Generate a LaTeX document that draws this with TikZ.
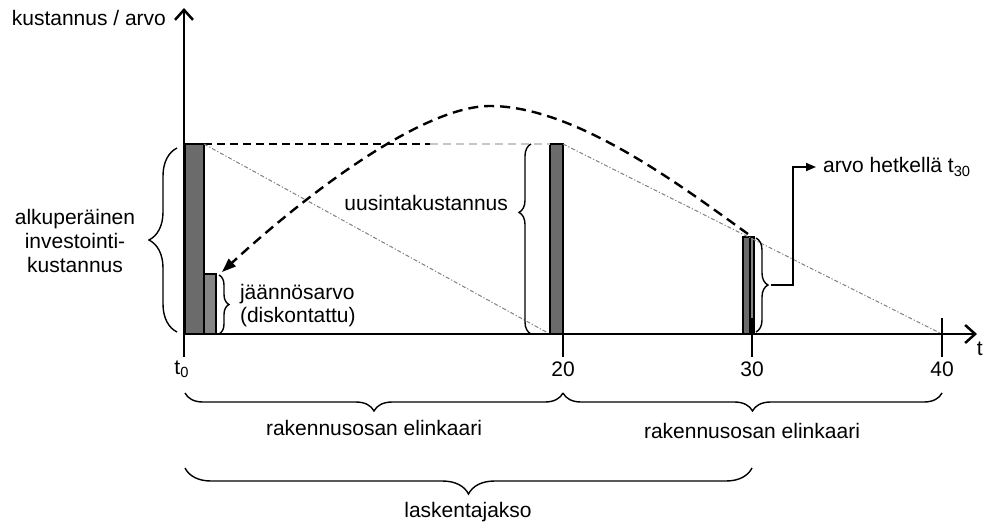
\documentclass[tikz,border=0pt]{standalone}
\usepackage{fontspec}
\setmainfont{Liberation Sans}
\usetikzlibrary{calc,arrows.meta,decorations.pathreplacing}
\definecolor{barfill}{gray}{0.42}
\definecolor{barlight}{gray}{0.52}

\begin{document}
\begin{tikzpicture}[x=0.5pt, y=-0.5pt, font=\fontsize{10.5}{12}\selectfont,
  axisline/.style={line width=1.25pt},
  barbox/.style={draw=black, line width=0.7pt, fill=barfill},
  brc/.style={decorate, line width=0.7pt, decoration={brace}},
  dashcurve/.style={line width=1.2pt, dash pattern=on 5pt off 3pt},
  hline/.style={line width=0.8pt, dash pattern=on 4pt off 2.5pt},
  deprline/.style={line width=0.5pt, gray, dash pattern=on 2pt off 1pt on 0.6pt off 1pt}]
  \useasboundingbox (0,0) rectangle (985,526);

  % points on the time axis
  \coordinate (O) at (184,334);
  \coordinate (T20) at (563,334);
  \coordinate (T30) at (752,334);
  \coordinate (T40) at (942,334);

  % bars
  \draw[barbox] (185,144) rectangle (204,334);
  \draw[barbox, fill=barlight] (204,274) rectangle (216,334);
  \draw[barbox] (550,144) rectangle (563,334);
  \draw[barbox] (743,237) rectangle (750,334);
  \draw[barbox, fill=barlight] (750,237) rectangle (754,334);
  \coordinate (top0) at (204,144);
  \coordinate (top20) at (550,144);
  \coordinate (top20r) at (563,144);
  \coordinate (top30) at (748,234);
  \coordinate (res) at (222,272);

  % value lines
  \draw[hline] (top0) -- (430,144);
  \draw[hline, gray!45] (430,144) -- (top20);
  \draw[deprline] (top0) -- (548,333);
  \draw[deprline] (top20r) -- (T40);
  \draw[dashcurve, -{Triangle[length=7pt,width=5pt]}] (top30)
    .. controls (680,185) and (575,106) .. (490,106)
    .. controls (420,106) and (300,200) .. (res);

  % axes
  \draw[axisline, -{Straight Barb[length=5pt,width=9pt]}] (184,357) -- (184,8);
  \draw[axisline, -{Straight Barb[length=5pt,width=9pt]}] (O) -- (977,334);
  \foreach \x in {563,752,942}
    \draw[axisline] (\x,318) -- (\x,357);
  \node[anchor=east] (ylab) at (173,18) {kustannus / arvo};
  \node[anchor=east, inner sep=0.5pt] (tlab) at (984,349) {t};
  \node (t0) at (182,369) {t\textsubscript{0}};
  \foreach \x/\t in {563/20,752/30,942/40}
    \node (tick\t) at (\x,369) {\t};

  % braces at the bars
  \draw[brc, decoration={amplitude=14pt}] (177,332) -- (177,148);
  \node[align=center, font=\fontsize{10.5}{12}\selectfont] (alku) at (75,241)
    {alkuperäinen\\investointi-\\kustannus};
  \draw[brc, decoration={amplitude=5pt}] (219,275) -- (219,334);
  \node[anchor=west, align=left, font=\fontsize{10.5}{11.5}\selectfont] (jaan) at (233,306)
    {jäännösarvo\\(diskontattu)};
  \draw[brc, decoration={amplitude=6pt, aspect=0.64}] (531,334) -- (531,144);
  \node[anchor=east] (uus) at (515,203) {uusintakustannus};
  \draw[brc, decoration={amplitude=6pt}] (756,238) -- (756,332);
  \coordinate (b30) at (771,285);
  \node[anchor=west] (arvo) at (816,167) {arvo hetkellä t\textsubscript{30}};
  \draw[line width=0.9pt, -{Triangle[length=5pt,width=4pt]}] (b30) -- (793,285) |- (arvo.west);

  % braces under the axis
  \draw[brc, decoration={amplitude=9pt}] (563,393) -- (185,393);
  \draw[brc, decoration={amplitude=9pt}] (942,393) -- (563,393);
  \node (elin1) at (374,428) {rakennusosan elinkaari};
  \node (elin2) at (752,431) {rakennusosan elinkaari};
  \draw[brc, decoration={amplitude=13pt}] (752,468) -- (185,468);
  \node (lask) at (468,512) {laskentajakso};
\end{tikzpicture}
\end{document}
